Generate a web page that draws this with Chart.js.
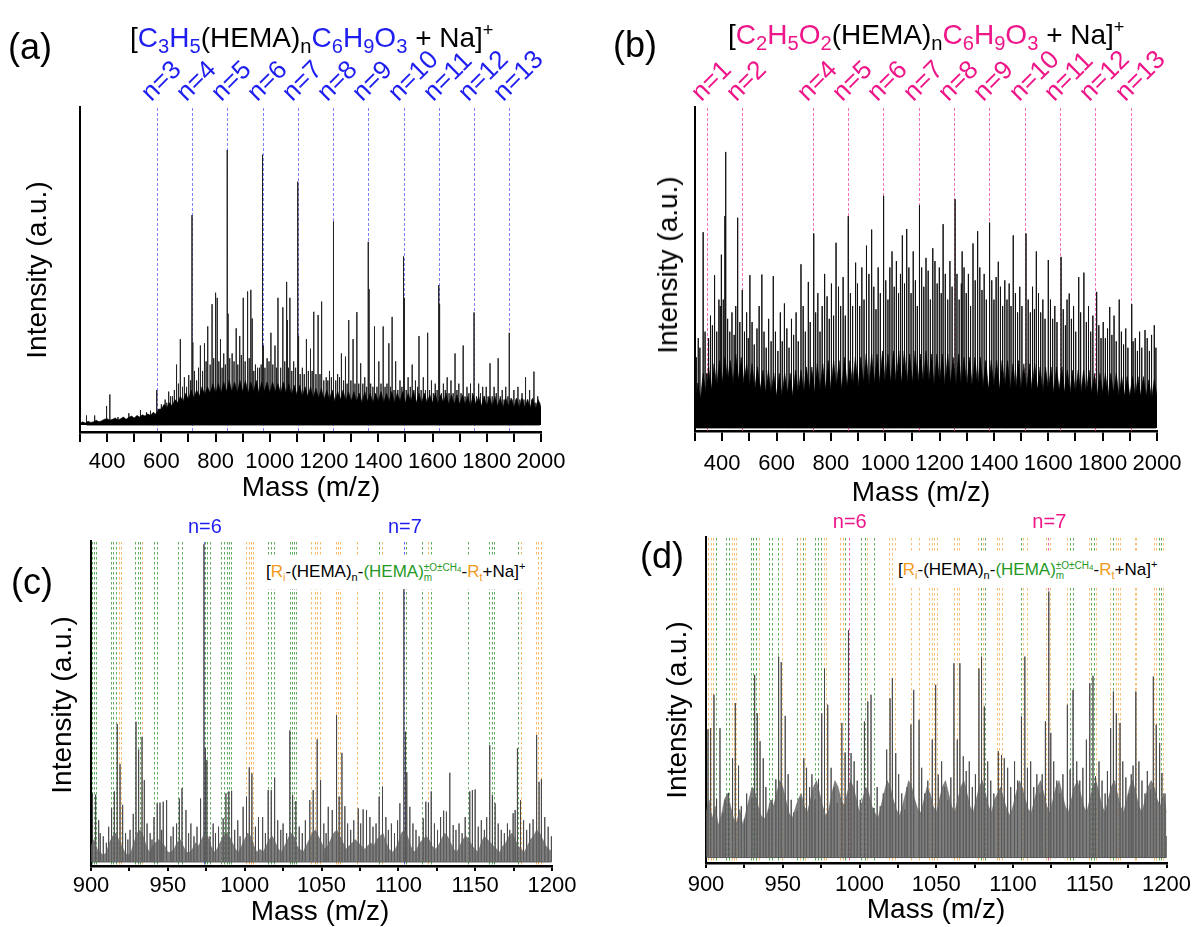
<!DOCTYPE html>
<html><head><meta charset="utf-8">
<script src="https://cdn.jsdelivr.net/npm/chart.js@4.4.1/dist/chart.umd.min.js"></script>
<style>
body{margin:0;width:1195px;height:927px;position:relative;background:#fff;font-family:"Liberation Sans",Arial,sans-serif;overflow:hidden}
canvas{position:absolute;left:0;top:0}
.t{position:absolute;white-space:nowrap;color:#000;line-height:1}
.letter{font-size:36px}
.title{font-size:28px}
.title sub{font-size:0.72em;vertical-align:-0.28em;line-height:0}
.title sup{font-size:0.65em;vertical-align:0.6em;line-height:0}
.axt{font-size:28px}
.rot{transform:translate(-50%,-50%) rotate(-90deg)}
.ctr{transform:translate(-50%,-50%)}
.nl{font-size:26px;transform-origin:0 100%;transform:rotate(-45deg)}
.nh{font-size:20px;transform:translate(-50%,-50%)}
.blue{color:#1e1ef0}
.pink{color:#ee1689}
.or{color:#f39a1e}
.gr{color:#1f991f}
.formula{position:absolute;background:#fff;font-size:17px;height:34px;line-height:34px;padding:0 5px;white-space:nowrap}
.formula sub{font-size:11px;vertical-align:-4px;line-height:0}
.formula sup{font-size:11px;vertical-align:7px;line-height:0}
.stk{display:inline-block;font-size:10px;line-height:10px;vertical-align:-4px}
.stk span{display:block}
.stk sub{font-size:8px;vertical-align:-1px}
</style>
</head><body>
<script>
// ---------------- Panel (a) ----------------
const seriesNA = [3,4,5,6,7,8,9,10,11,12,13];
const seriesMassA = [583,713,843,973,1103,1233,1363,1493,1623,1753,1883];
const seriesHeightA = [11,66,86.5,85,76.5,64,57.6,53,44,35.4,29];
const peaksA = [[324,3],[354,3],[398,6],[410,9.6],[440,2.5],[480,3.7],[523,4.7],[545,4],[560,4.5],[600,6.5],[614,8],[627,10.5],[641,9],[656,19],[670,27],[685,15],[701,15.7],[716,26],[730,14],[744,25],[759,25.7],[771,31],[787,38],[800,41.6],[806,40],[818,27],[830,22.5],[846,35],[861,22.5],[876,30.4],[889,28],[902,40],[918,42],[930,42.5],[935,33.5],[947,19],[962,18],[976,25],[990,21],[1004,29],[1019,25],[1030,40],[1048,37],[1062,45],[1065,33],[1074,40],[1088,20],[1106,28],[1120,18],[1135,27],[1150,24],[1162,35.6],[1178,34.6],[1191,38.8],[1208,15],[1220,17],[1236,40],[1250,16],[1264,22.5],[1279,21.5],[1291,33],[1307,27],[1321,35.5],[1335,19.4],[1350,15],[1366,42.7],[1386,31],[1402,20],[1418,31],[1439,25.7],[1451,34],[1464,20],[1480,14],[1496,40],[1510,15],[1525,19],[1537,14],[1550,28],[1566,15],[1582,29],[1596,14],[1610,13],[1626,38],[1640,13],[1654,15],[1668,14],[1683,22.5],[1697,13],[1713,25],[1727,12],[1740,13],[1770,13],[1785,12],[1798,12],[1812,19.4],[1827,12],[1842,21],[1857,11],[1870,12],[1900,11],[1915,12],[1930,10],[1943,15],[1958,11],[1974,16.8],[1988,9]];
const minorA = [[620,7],[634,9],[648,11],[663,13],[678,12],[693,12],[708,14],[722,17],[737,18],[752,17],[765,20],[780,19],[793,21],[812,20],[824,18],[836,19],[852,21],[868,20],[882,19],[895,22],[909,20],[924,21],[941,17],[955,18],[968,19],[982,18],[997,20],[1011,19],[1025,18],[1040,18],[1055,20],[1069,18],[1081,17],[1095,18],[1112,16],[1127,16],[1142,17],[1156,17],[1170,16],[1185,16],[1199,14],[1214,14],[1227,15],[1243,14],[1257,15],[1272,14],[1285,13],[1299,14],[1314,13],[1328,13],[1343,13],[1357,12],[1372,13],[1380,12],[1395,12],[1410,13],[1425,12],[1432,13],[1445,12],[1458,11],[1472,11],[1487,12],[1503,11],[1518,12],[1531,11],[1545,12],[1558,11],[1574,11],[1589,11],[1603,10],[1617,11],[1633,10],[1647,11],[1661,10],[1676,10],[1690,11],[1705,10],[1720,9],[1734,10],[1747,10],[1762,9],[1777,10],[1791,9],[1805,9],[1820,9],[1835,10],[1850,9],[1864,8],[1878,9],[1893,8],[1908,8],[1922,8],[1937,8],[1951,8],[1966,8],[1981,7],[1995,7]];
// dense unresolved background, sampled every 10 m/z from 300
const denseStartA = 300, denseStepA = 10;
const denseA = [0.5,1,0.6,1.2,0.8,1,1.5,1,1.3,1.8, 2,1.5,1.8,2.2,1.6,2,2.5,1.8,2.4,2.8, 2.2,3,2.5,3.2,2.8,3.5,3,4,3.4,5,
  5,6.5,5.5,7,6,8,7,9,7.5,10, 8,11,8.5,11,9,12,9.5,12,10,13, 10,13,10,13.5,10.5,14,10.5,13.5,10,14, 10.5,14,10,13.5,10.5,14,10,13.5,10.5,13.5,
  10,13.5,10.5,13,10,13.5,10,13,9.5,12.5, 9.5,12.5,9,12,9,12,8.5,11.5,8.5,11.5, 8,11,8,11,7.5,10.5,8,11,7.5,10.5, 7.5,10.5,7.5,10,7,10.5,7.5,10,7,10,
  7.5,10.5,7,10,7.5,10.5,7,10,7.5,10.5, 7,10,7.5,10.5,7,10,7,10,7,9.5, 7,10,6.5,9.5,7,10,6.5,9.5,6.5,9.5, 6.5,9.5,6.5,9,6,9.5,6.5,9,6,9,
  6,9,6,9,6,8.5,5.5,8.5,6,8.5, 5.5,8.5,5.5,8.5,5.5,8,5.5,8.5,5,8, 5.5];

// ---------------- Panel (b) ----------------
const seriesNB = [1,2,4,5,6,7,8,9,10,11,12,13];
const seriesMassB = [343,473,733,863,993,1123,1253,1383,1513,1643,1773,1903];
const peaksB = [[330,61],[343,17],[372,47.6],[388,40],[397,54],[410,66],[413,86],[457,65.5],[474,43],[502,47.6],[546,47.8],[588,47.3],[629,38.8],[690,51],[717,45.5],[737,60.6],[777,48],[819,57.7],[864,66],[891,51.5],[931,56.8],[950,61.8],[994,72.3],[1025,55],[1063,60],[1079,62],[1126,69.4],[1150,53],[1175,56],[1213,63.5],[1257,71.3],[1283,55],[1323,57.5],[1340,61.3],[1384,64],[1416,51.8],[1471,60],[1518,60.6],[1556,55],[1600,52.3],[1647,53.3],[1677,41.9],[1712,47],[1731,48.4],[1778,42.4],[1826,37.7],[1861,40],[1907,38.6],[1920,28],[1956,30.5],[1990,32]];
const minorB = [[305,22],[312,28],[318,25],[337,30],[350,28],[357,35],[364,32],[380,30],[393,38],[404,40],[420,34],[428,30],[436,36],[444,29],[450,38],[465,33],[482,30],[490,36],[496,28],[510,33],[518,26],[528,31],[536,38],[554,30],[562,25],[571,34],[580,27],[596,30],[605,24],[614,36],[621,27],[638,31],[646,25],[655,34],[663,29],[672,36],[680,27],[698,38],[706,30],[724,33],[744,36],[752,42],[760,30],[768,38],[786,41],[794,34],[802,45],[810,35],[828,44],[836,38],[845,47],[853,35],[872,42],[880,38],[898,45],[906,38],[914,50],[922,40],[940,48],[958,44],[966,37],[974,50],[982,42],[1002,46],[1010,40],[1017,50],[1033,44],[1041,52],[1049,42],[1056,48],[1071,45],[1087,50],[1095,42],[1103,55],[1111,46],[1118,38],[1134,50],[1142,44],[1158,49],[1166,40],[1183,52],[1191,45],[1199,50],[1206,42],[1221,48],[1230,40],[1238,52],[1246,44],[1264,48],[1272,40],[1280,45],[1290,50],[1298,42],[1306,48],[1314,38],[1331,46],[1348,50],[1356,43],[1364,48],[1372,40],[1392,46],[1400,40],[1408,47],[1424,44],[1432,38],[1440,46],[1448,40],[1456,45],[1463,38],[1479,42],[1487,36],[1495,44],[1503,38],[1526,40],[1534,36],[1542,44],[1549,37],[1564,42],[1572,36],[1580,40],[1588,34],[1608,40],[1616,34],[1624,38],[1632,33],[1655,37],[1663,32],[1669,40],[1685,34],[1693,38],[1701,30],[1719,36],[1740,33],[1748,38],[1756,30],[1764,35],[1786,32],[1794,28],[1802,33],[1810,28],[1818,31],[1834,29],[1842,35],[1850,27],[1869,30],[1877,26],[1885,31],[1893,25],[1912,27],[1928,24],[1936,30],[1944,25],[1964,28],[1972,24],[1980,29],[1996,25]];
const denseStartB = 300, denseStepB = 10;
const denseB = [6,14,9,17,11,19,12,20,13,21, 14,22,15,21,14,23,15,22,14,20, 13,20,12,19,12,18,11,18,11,17,
  10,17,10,17,11,17,10,18,11,18, 11,19,12,19,11,20,12,20,12,21, 12,21,13,21,12,22,13,21,13,22, 13,22,14,23,13,23,14,23,14,24,
  14,23,14,24,14,24,14,24,14,23, 14,24,14,23,14,24,14,23,13,23, 14,23,13,23,14,22,13,23,13,22, 13,22,13,22,13,22,13,21,12,21,
  13,21,12,21,13,21,12,20,12,21, 12,20,12,20,12,20,12,19,11,19, 12,19,11,19,12,19,11,18,11,18, 11,18,11,18,11,18,11,17,10,17,
  11,17,10,17,11,17,10,16,10,16, 10,16,10,16,10,16,10,15,9,15, 10];

// ---------------- Panel (c) ----------------
const nMarksC = [6,7];
const nMassC = [973.5,1103.6];
const peaksC = [[901,21.4],[903,21],[905,13],[908,8],[913.4,16.7],[915.2,22],[917.1,43],[918.9,30.5],[920.6,17.8],[925.4,10],[927.5,15],[929.3,43.7],[931,35],[933.2,39],[934.7,25.5],[941,14],[943.1,18.3],[944.9,18.5],[947,18.8],[949.2,19.3],[955.7,12],[957.5,19.8],[959.2,23],[961.8,16.2],[971.3,19.8],[973.5,99],[974.4,35.4],[975.4,31.8],[977.4,8],[986,13.6],[987.8,21.4],[989.7,22],[991.5,22.2],[999,17.2],[1001.2,20.4],[1003,29.5],[1004.7,27.6],[1011.7,14],[1015.3,22.4],[1017.3,22.4],[1019.5,26.3],[1027.3,9],[1029.4,41],[1031.2,20.9],[1033.3,19],[1042.4,19.3],[1044.6,22.4],[1047.2,38.2],[1049.4,25.5],[1054.4,17.2],[1057,16.2],[1059.8,45.8],[1061.5,20.4],[1063.3,34],[1065.2,17.4],[1073.9,16.7],[1077.1,16.4],[1079.3,16.2],[1087.5,20.4],[1089.7,23.5],[1091.9,14],[1101,18.3],[1103.6,85],[1104.7,40.6],[1105.5,28],[1107.5,17.2],[1116.2,13.6],[1117.9,18.8],[1119.6,18.5],[1121.4,22],[1131.3,15.7],[1133.5,27.8],[1135.7,11.5],[1146.5,22],[1148.2,22.4],[1150,22.6],[1159.5,36.4],[1161.2,20.9],[1163,18.3],[1174.7,15.2],[1176,16.2],[1177.5,35.4],[1179.5,19.3],[1187.7,13.3],[1190,39.6],[1191.6,25],[1193.1,25.8],[1195.3,14],[1199.6,8]];
const minorC = [[906,9],[910,6],[911.5,11],[922.5,9],[924,7],[936.5,12],[938.5,9],[939.7,7],[946,10],[952,8],[953.5,11],[963.5,9],[965,12],[967,8],[969,11],[979.5,12],[981,9],[983,11],[993.5,10],[995.5,13],[997,8],[1007,11],[1009,14],[1013.5,9],[1021.5,13],[1023.5,10],[1025,12],[1035.5,11],[1037.5,9],[1039.5,13],[1051.5,12],[1053,9],[1067,12],[1069,10],[1071,13],[1075.5,12],[1081.5,14],[1083.5,11],[1085.5,12],[1093.5,10],[1095.5,12],[1097.5,9],[1099.5,13],[1109.5,12],[1111.5,10],[1113.5,8],[1123.5,12],[1125.5,10],[1127.5,14],[1129.5,16],[1137.5,10],[1139.5,12],[1141.5,9],[1143.5,14],[1152,11],[1154,13],[1156,10],[1157.5,14],[1165,12],[1167,10],[1169,9],[1171,12],[1172.5,10],[1181.5,13],[1183.5,10],[1185.5,12],[1197.5,11]];
const denseStartC = 900, denseStepC = 2;
const denseC = [5,7,4,3,2,3,6,8,9,7, 5,3,2,3,6,9,10,8,5,3, 5,6,7,6,5,3,3,4,6,7, 5,3,3,4,6,5,7,9,8,5,
  3,4,6,8,9,8,6,4,3,5, 7,9,8,5,3,4,3,5,7,8, 6,4,3,5,7,9,8,5,4,3, 5,7,9,10,8,6,4,5,7,9,
  10,8,6,4,5,6,7,6,5,4, 5,6,5,7,8,9,6,4,3,4, 6,9,10,8,5,3,4,6,7,8, 7,5,4,5,7,9,8,6,4,3,
  5,7,8,7,5,4,3,6,8,7, 6,5,4,3,5,6,8,9,7,5, 4,3,5,7,8,10,9,7,5,4, 3];
const greenC = [900.7,902,903.2,912.8,914.5,916.3,928.8,930.6,931.9,940.8,943.1,956.6,959.2,974.4,975.7,977.2,984.8,986.5,988.3,990,991.3,1015.2,1017.3,1019.1,1029.3,1030.8,1032.1,1033.6,1087.4,1105,1115.2,1121.3,1145.5,1159.2,1160.7,1162,1177.7];
const orangeC = [918,919.3,933.2,1001,1002.6,1003.9,1005.4,1043.4,1045.6,1047.3,1049.2,1059.2,1060.5,1062,1073.3,1089.2,1119.1,1179.8,1189.6,1191.2,1192.8];

// ---------------- Panel (d) ----------------
const nMarksD = [6,7];
const nMassD = [993,1123];
const peaksD = [[901.3,40],[903,40.4],[905.2,50.8],[906.9,18.3],[909.1,40.4],[914.7,20.2],[917.3,31],[919.1,48.2],[921.2,28.7],[929.9,18.7],[931.7,57],[933.4,45],[935.2,36.3],[937.3,31],[945.5,24.4],[947.3,62.7],[949,61],[951.6,44.2],[959.4,14.5],[961.6,18.7],[963.7,31],[965.5,28],[973.3,24.4],[975.4,45],[977.2,59],[979.3,47.7],[988.5,42],[990.6,32.8],[992.8,71],[994.5,32.6],[1003.2,42.5],[1005.4,48.7],[1007.5,50.8],[1009.3,15.5],[1017.7,33.7],[1019.9,49.7],[1021.4,56],[1023.6,32.6],[1033.5,41.5],[1035.3,52.3],[1038.8,43],[1047.4,36.8],[1049.6,53.9],[1051.3,25.9],[1061.5,60.6],[1063.7,36.8],[1065.4,60.6],[1067.6,31.6],[1077.8,59],[1079.5,62.7],[1081.3,47.2],[1090.4,33.2],[1092.5,32],[1094.3,31],[1105.5,44],[1107.7,62.7],[1109.4,28],[1121.1,42.5],[1123.3,83],[1124.6,38.9],[1135.4,47.7],[1137.2,27.5],[1139.1,52.3],[1147.8,36.8],[1150,54.4],[1152.1,56.7],[1153.7,25.4],[1163.6,40.4],[1165.4,51.8],[1167.3,45],[1169.7,42],[1178.2,28.7],[1180,51.8],[1189.6,21.2],[1191.4,56.5],[1193.3,41.5],[1195.5,35.8],[1197,26.4],[1200,6.7]];
const minorD = [[911,14],[912.5,18],[923,16],[925,12],[926.5,20],[939,22],[941,15],[943,18],[953.5,26],[955.5,18],[957,14],[967.5,22],[969,26],[971,18],[981.5,28],[983.5,22],[985.5,17],[996.5,30],[998.5,24],[1000.5,18],[1011.5,22],[1013.5,16],[1015.5,20],[1025.5,26],[1027.5,20],[1029.5,15],[1031,22],[1040.5,28],[1042.5,20],[1044.5,24],[1053.5,30],[1055.5,22],[1057.5,18],[1059.5,25],[1069.5,27],[1071.5,30],[1073.5,22],[1075.5,26],[1083.5,30],[1085.5,24],[1087.5,20],[1096.5,28],[1098.5,22],[1101,30],[1103,24],[1111.5,30],[1113.5,22],[1115.5,26],[1117.5,20],[1119,26],[1126.5,30],[1128.5,24],[1130.5,20],[1132.5,26],[1141.5,30],[1143.5,24],[1145.5,28],[1156,30],[1158,24],[1160,20],[1161.5,27],[1171.5,30],[1173.5,25],[1175.5,20],[1177,26],[1182,30],[1184,24],[1186,20],[1187.5,27],[1199,20]];
const denseStartD = 900, denseStepD = 2;
const denseD = [14,18,12,16,10,13,18,20,16,12, 11,15,10,14,18,22,20,16,13,12, 14,18,16,20,24,22,18,14,12,15, 18,20,16,14,18,22,24,20,16,13,
  15,20,24,22,18,16,20,24,22,18, 14,18,22,20,16,14,12,16,20,24, 22,18,15,13,16,20,24,22,18,15, 14,18,22,20,16,14,18,22,24,20,
  16,14,18,22,24,20,16,14,18,22, 24,20,16,14,18,20,22,18,15,13, 16,20,24,22,18,15,14,18,22,24, 20,16,14,18,22,24,20,16,14,18,
  22,24,20,16,14,18,22,24,20,16, 14,18,22,24,20,16,14,18,22,24, 20,16,14,18,22,24,22,18,16,20, 14];
const orangeD = [901.5,903,904.7,916.7,918.2,919.7,934.4,949.2,961.1,964.8,976.7,978.2,987.5,989.2,1004.8,1019.4,1021.1,1023.3,1033.6,1038.8,1045.3,1047,1048.8,1050.5,1061.6,1063.3,1065,1077.4,1080.2,1089.3,1091,1093,1106.6,1109.4,1121.4,1124.4,1135.4,1149.3,1153.9,1163.4,1166.9,1168.4,1169.9,1179.2,1180.2,1191.6,1193.3,1197.6];
const greenD = [906.7,913.2,915,929,930.7,932.7,941,943.1,947,959.3,963,971.3,973,974.9,990.8,1001.2,1003.3,1009.2,1078.9,1081.7,1105.1,1137,1139.1,1151,1152.6,1165.1,1195,1196.5];

// ---------------- helpers ----------------
const FONT = '"Liberation Sans", Arial, sans-serif';
const W = 1195, H = 927, XH = 46;

function stickData(lists) {
  const pts = [].concat(...lists).slice().sort((a, b) => a[0] - b[0]);
  const out = [];
  pts.forEach(([m, h]) => { out.push({x: m, y: 0}, {x: m, y: h}, {x: m, y: 0}); });
  return out;
}
function denseData(start, step, heights) {
  return heights.map((h, i) => ({x: start + i * step, y: h}));
}

const markerPlugin = {
  id: 'markers',
  beforeDatasetsDraw(chart, args, opts) {
    const {ctx, chartArea: a, scales: {x}} = chart;
    (opts.sets || []).forEach(set => {
      ctx.save();
      ctx.strokeStyle = set.color;
      ctx.lineWidth = set.width || 1;
      ctx.setLineDash(set.dash);
      set.values.forEach(v => {
        const px = Math.round(x.getPixelForValue(v)) + 0.5;
        ctx.beginPath(); ctx.moveTo(px, a.top + 1); ctx.lineTo(px, a.bottom); ctx.stroke();
      });
      ctx.restore();
    });
  }
};

function panel(o) {
  const cv = document.createElement('canvas');
  cv.width = W; cv.height = H;
  document.body.appendChild(cv);
  return new Chart(cv, {
    type: 'line',
    data: {datasets: [
      {data: o.dense, borderColor: o.envColor, backgroundColor: o.envColor,
       borderWidth: 0.6, fill: 'origin', pointRadius: 0, tension: 0},
      {data: stickData(o.peaks), borderColor: o.stickColor, borderWidth: 1, fill: false, pointRadius: 0, tension: 0}
    ]},
    options: {
      responsive: false, animation: false, devicePixelRatio: 1, events: [],
      layout: {padding: {left: o.l, top: o.t, right: W - o.r, bottom: H - o.b - XH}},
      plugins: {legend: {display: false}, tooltip: {enabled: false}, markers: {sets: o.sets}},
      scales: {
        x: {type: 'linear', min: o.xMin, max: o.xMax, afterFit: s => { s.height = XH; },
            ticks: {stepSize: o.step, autoSkip: false, maxRotation: 0, minRotation: 0, padding: o.tickPad, color: '#000',
                    font: {size: 22, family: FONT}, callback: v => (v % o.labelEvery === 0 ? String(v) : '')},
            grid: {display: true, drawOnChartArea: false, drawTicks: true, tickLength: o.tickLen, color: '#000', lineWidth: 2},
            border: {display: true, color: '#000', width: 2.5}},
        y: {type: 'linear', min: o.yMin, max: 100, afterFit: s => { s.width = 0; },
            ticks: {display: false}, grid: {display: false},
            border: {display: true, color: '#000', width: 2}}
      }
    },
    plugins: [markerPlugin]
  });
}

function addText(html, cls, left, top) {
  const d = document.createElement('div');
  d.className = 't ' + cls;
  d.innerHTML = html;
  d.style.left = left + 'px'; d.style.top = top + 'px';
  document.body.appendChild(d);
  return d;
}

// ---------------- build charts ----------------
const chartA = panel({l: 80, r: 541, t: 107, b: 432, xMin: 300, xMax: 2000, step: 100, labelEvery: 200, yMin: -2.2,
  tickLen: 10, tickPad: 7,
  dense: denseData(denseStartA, denseStepA, denseA), envColor: '#000', stickColor: '#222',
  peaks: [seriesMassA.map((m, i) => [m, seriesHeightA[i]]), peaksA, minorA],
  sets: [{values: seriesMassA, color: 'rgba(80,80,255,0.8)', dash: [3, 2], width: 0.9}]});

const chartB = panel({l: 695, r: 1157, t: 107, b: 431, xMin: 300, xMax: 2000, step: 100, labelEvery: 200, yMin: -0.95,
  tickLen: 10, tickPad: 10,
  dense: denseData(denseStartB, denseStepB, denseB), envColor: '#000', stickColor: '#111',
  peaks: [peaksB, minorB],
  sets: [{values: seriesMassB, color: 'rgba(240,70,155,0.85)', dash: [3, 2], width: 0.9}]});

const chartC = panel({l: 91, r: 552, t: 541, b: 866, xMin: 900, xMax: 1200, step: 25, labelEvery: 50, yMin: -1.25,
  tickLen: 5, tickPad: 2,
  dense: denseData(denseStartC, denseStepC, denseC), envColor: 'rgba(95,95,95,0.8)', stickColor: 'rgba(70,70,70,0.9)',
  peaks: [peaksC, minorC],
  sets: [{values: greenC, color: 'rgba(40,145,40,0.75)', dash: [2.5, 2.5]},
         {values: orangeC, color: 'rgba(245,160,50,0.75)', dash: [2.5, 2.5]},
         {values: nMassC, color: '#6060ff', dash: [2.5, 2.5]}]});

const chartD = panel({l: 706, r: 1168, t: 537, b: 863, xMin: 900, xMax: 1200, step: 25, labelEvery: 50, yMin: -1.7,
  tickLen: 5, tickPad: 4,
  dense: denseData(denseStartD, denseStepD, denseD), envColor: 'rgba(95,95,95,0.8)', stickColor: 'rgba(70,70,70,0.9)',
  peaks: [peaksD, minorD],
  sets: [{values: greenD, color: 'rgba(40,145,40,0.75)', dash: [2.5, 2.5]},
         {values: orangeD, color: 'rgba(245,165,60,0.7)', dash: [2.5, 2.5]},
         {values: nMassD, color: '#f060a8', dash: [2.5, 2.5]}]});

// ---------------- text overlays ----------------
addText('(a)', 'letter', 8, 29);
addText('(b)', 'letter', 613, 27);
addText('(c)', 'letter', 11, 564);
addText('(d)', 'letter', 640, 538);

addText('[<span class="blue">C<sub>3</sub>H<sub>5</sub></span>(HEMA)<sub>n</sub><span class="blue">C<sub>6</sub>H<sub>9</sub>O<sub>3</sub></span> + Na]<sup>+</sup>', 'title', 130, 24);
addText('[<span class="pink">C<sub>2</sub>H<sub>5</sub>O<sub>2</sub></span>(HEMA)<sub>n</sub><span class="pink">C<sub>6</sub>H<sub>9</sub>O<sub>3</sub></span> + Na]<sup>+</sup>', 'title', 728, 21);

const ylab = 'Intensity (a.u.)', xlab = 'Mass (m/z)';
addText(ylab, 'axt rot', 37, 270);
addText(ylab, 'axt rot', 668, 265);
addText(ylab, 'axt rot', 62, 705);
addText(ylab, 'axt rot', 677, 710);
addText(xlab, 'axt ctr', 311, 487);
addText(xlab, 'axt ctr', 921, 492);
addText(xlab, 'axt ctr', 320, 911);
addText(xlab, 'axt ctr', 936, 909);

// rotated n= labels
function nLabels(chart, masses, ns, cls) {
  const x = chart.scales.x, top = chart.chartArea.top;
  masses.forEach((m, i) => {
    const px = x.getPixelForValue(m);
    addText('n=' + ns[i], 'nl ' + cls, px - 3, top - 28);
  });
}
nLabels(chartA, seriesMassA, seriesNA, 'blue');
nLabels(chartB, seriesMassB, seriesNB, 'pink');

function nFlat(chart, masses, ns, cls, y) {
  masses.forEach((m, i) => addText('n=' + ns[i], 'nh ' + cls, chart.scales.x.getPixelForValue(m) + 1, y));
}
nFlat(chartC, nMassC, nMarksC, 'blue', 526);
nFlat(chartD, nMassD, nMarksD, 'pink', 521);

// formula boxes
const formulaHTML = '[<span class="or">R<sub>i</sub></span>-(HEMA)<sub>n</sub>-<span class="gr">(HEMA)<span class="stk"><span>±O±CH<sub>4</sub></span><span>m</span></span></span>-<span class="or">R<sub>t</sub></span>+Na]<sup>+</sup>';
function formula(left, top, width) {
  const d = document.createElement('div');
  d.className = 'formula';
  d.innerHTML = formulaHTML;
  d.style.left = left + 'px'; d.style.top = top + 'px'; d.style.width = width + 'px';
  document.body.appendChild(d);
}
formula(261, 555, 266);
formula(893, 553, 270);
</script>
</body></html>
